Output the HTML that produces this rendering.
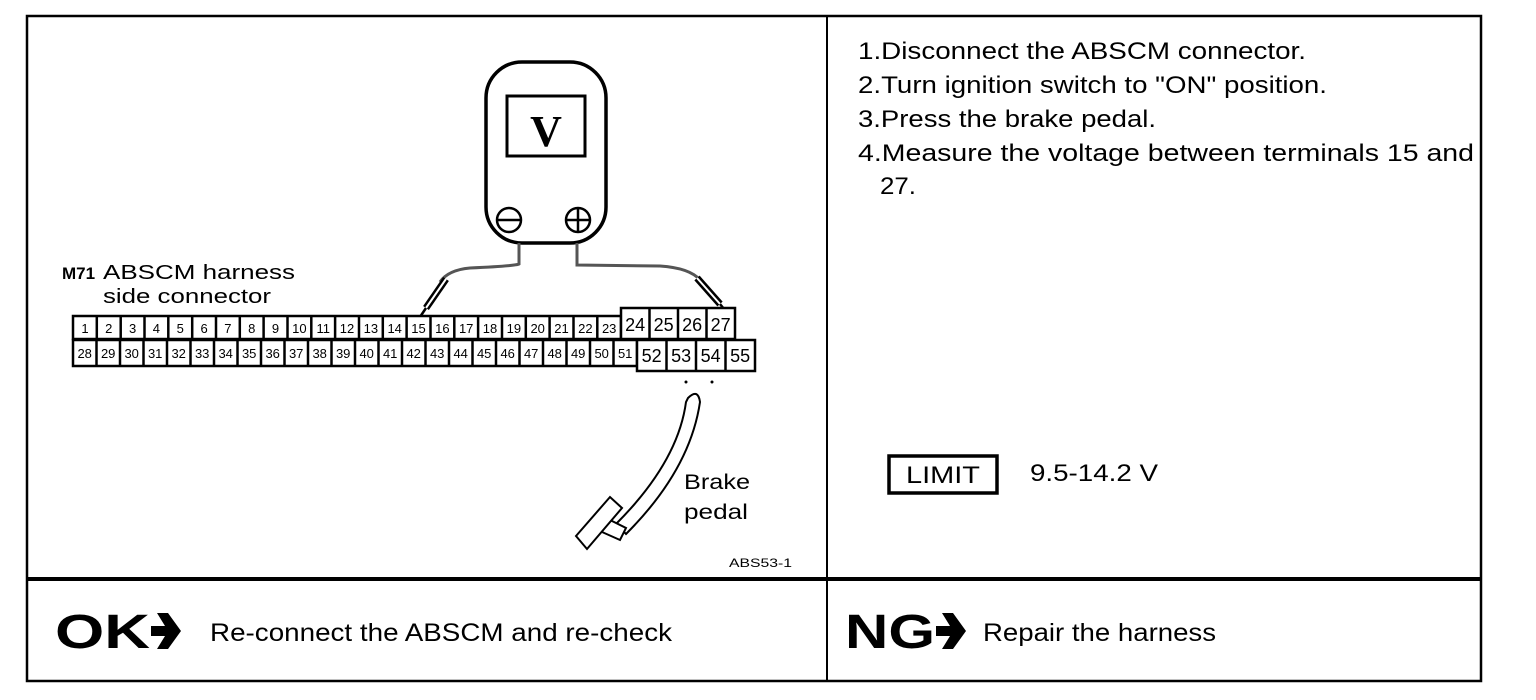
<!DOCTYPE html>
<html><head><meta charset="utf-8"><style>
html,body{margin:0;padding:0;background:#fff;}
svg{display:block;}
text{font-family:"Liberation Sans",sans-serif;fill:#000;}
.c{font-size:13px;text-anchor:middle;}
.C{font-size:18px;text-anchor:middle;}
</style></head><body>
<svg width="1536" height="700" viewBox="0 0 1536 700" xmlns="http://www.w3.org/2000/svg">
<rect x="27" y="16" width="1454" height="665" fill="none" stroke="#000" stroke-width="2.5"/>
<line x1="827" y1="16" x2="827" y2="681" stroke="#000" stroke-width="2"/>
<line x1="27" y1="579" x2="1481" y2="579" stroke="#000" stroke-width="4"/>

<!-- meter -->
<rect x="486" y="62" width="120" height="181" rx="36" fill="#fff" stroke="#000" stroke-width="3.5"/>
<rect x="507" y="96" width="78" height="60" fill="none" stroke="#000" stroke-width="3"/>
<text x="546" y="146" font-weight="bold" font-size="44" text-anchor="middle" style="font-family:'Liberation Serif',serif">V</text>
<circle cx="509" cy="220" r="12" fill="none" stroke="#000" stroke-width="2.5"/>
<line x1="497" y1="220" x2="521" y2="220" stroke="#000" stroke-width="2.5"/>
<circle cx="578" cy="220" r="12" fill="none" stroke="#000" stroke-width="2.5"/>
<line x1="566" y1="220" x2="590" y2="220" stroke="#000" stroke-width="2.5"/>
<line x1="578" y1="208" x2="578" y2="232" stroke="#000" stroke-width="2.5"/>
<!-- wires -->
<path d="M519 243 L519 264 Q515 266 470 268 Q448 270 440 282" fill="none" stroke="#555" stroke-width="3"/>
<path d="M577 243 L577 265 L660 266 Q690 268 700 280" fill="none" stroke="#555" stroke-width="3"/>
<line x1="446" y1="279" x2="426" y2="308" stroke="#000" stroke-width="7"/>
<line x1="446" y1="279" x2="426" y2="308" stroke="#fff" stroke-width="2"/>
<line x1="426" y1="308" x2="418" y2="320" stroke="#000" stroke-width="2.5"/>
<line x1="697" y1="278" x2="720" y2="304" stroke="#000" stroke-width="7"/>
<line x1="697" y1="278" x2="720" y2="304" stroke="#fff" stroke-width="2"/>
<line x1="720" y1="304" x2="728" y2="314" stroke="#000" stroke-width="2.5"/>

<!-- labels -->
<text x="62" y="279" font-size="17" font-weight="bold">M71</text>
<text x="103" y="279" font-size="20" textLength="192" lengthAdjust="spacingAndGlyphs">ABSCM harness</text>
<text x="103" y="303" font-size="20" textLength="168" lengthAdjust="spacingAndGlyphs">side connector</text>

<!-- connector -->
<g fill="#fff" stroke="#000" stroke-width="2.5">
<rect x="73" y="316" width="548" height="23"/>
<rect x="621" y="308" width="114" height="31"/>
<rect x="73" y="340" width="564" height="26"/>
<rect x="637" y="340" width="118" height="31"/>
</g>
<g stroke="#000" stroke-width="2.5">
<line x1="96.8" y1="316" x2="96.8" y2="339"/><line x1="120.7" y1="316" x2="120.7" y2="339"/><line x1="144.5" y1="316" x2="144.5" y2="339"/><line x1="168.3" y1="316" x2="168.3" y2="339"/><line x1="192.2" y1="316" x2="192.2" y2="339"/><line x1="216" y1="316" x2="216" y2="339"/><line x1="239.8" y1="316" x2="239.8" y2="339"/><line x1="263.6" y1="316" x2="263.6" y2="339"/><line x1="287.5" y1="316" x2="287.5" y2="339"/><line x1="311.3" y1="316" x2="311.3" y2="339"/><line x1="335.1" y1="316" x2="335.1" y2="339"/><line x1="359" y1="316" x2="359" y2="339"/><line x1="382.8" y1="316" x2="382.8" y2="339"/><line x1="406.6" y1="316" x2="406.6" y2="339"/><line x1="430.5" y1="316" x2="430.5" y2="339"/><line x1="454.3" y1="316" x2="454.3" y2="339"/><line x1="478.1" y1="316" x2="478.1" y2="339"/><line x1="502" y1="316" x2="502" y2="339"/><line x1="525.8" y1="316" x2="525.8" y2="339"/><line x1="549.6" y1="316" x2="549.6" y2="339"/><line x1="573.5" y1="316" x2="573.5" y2="339"/><line x1="597.3" y1="316" x2="597.3" y2="339"/>
<line x1="649.5" y1="308" x2="649.5" y2="339"/><line x1="678" y1="308" x2="678" y2="339"/><line x1="706.5" y1="308" x2="706.5" y2="339"/>
<line x1="96.5" y1="340" x2="96.5" y2="366"/><line x1="120" y1="340" x2="120" y2="366"/><line x1="143.5" y1="340" x2="143.5" y2="366"/><line x1="167" y1="340" x2="167" y2="366"/><line x1="190.5" y1="340" x2="190.5" y2="366"/><line x1="214" y1="340" x2="214" y2="366"/><line x1="237.5" y1="340" x2="237.5" y2="366"/><line x1="261" y1="340" x2="261" y2="366"/><line x1="284.5" y1="340" x2="284.5" y2="366"/><line x1="308" y1="340" x2="308" y2="366"/><line x1="331.5" y1="340" x2="331.5" y2="366"/><line x1="355" y1="340" x2="355" y2="366"/><line x1="378.5" y1="340" x2="378.5" y2="366"/><line x1="402" y1="340" x2="402" y2="366"/><line x1="425.5" y1="340" x2="425.5" y2="366"/><line x1="449" y1="340" x2="449" y2="366"/><line x1="472.5" y1="340" x2="472.5" y2="366"/><line x1="496" y1="340" x2="496" y2="366"/><line x1="519.5" y1="340" x2="519.5" y2="366"/><line x1="543" y1="340" x2="543" y2="366"/><line x1="566.5" y1="340" x2="566.5" y2="366"/><line x1="590" y1="340" x2="590" y2="366"/><line x1="613.5" y1="340" x2="613.5" y2="366"/>
<line x1="666.5" y1="340" x2="666.5" y2="371"/><line x1="696" y1="340" x2="696" y2="371"/><line x1="725.5" y1="340" x2="725.5" y2="371"/>
</g>
<g>
<text class="c" x="85" y="333">1</text><text class="c" x="108.7" y="333">2</text><text class="c" x="132.6" y="333">3</text><text class="c" x="156.4" y="333">4</text><text class="c" x="180.2" y="333">5</text><text class="c" x="204.1" y="333">6</text><text class="c" x="227.9" y="333">7</text><text class="c" x="251.7" y="333">8</text><text class="c" x="275.5" y="333">9</text><text class="c" x="299.4" y="333">10</text><text class="c" x="323.2" y="333">11</text><text class="c" x="347" y="333">12</text><text class="c" x="370.9" y="333">13</text><text class="c" x="394.7" y="333">14</text><text class="c" x="418.5" y="333">15</text><text class="c" x="442.4" y="333">16</text><text class="c" x="466.2" y="333">17</text><text class="c" x="490" y="333">18</text><text class="c" x="513.9" y="333">19</text><text class="c" x="537.7" y="333">20</text><text class="c" x="561.5" y="333">21</text><text class="c" x="585.4" y="333">22</text><text class="c" x="609.2" y="333">23</text>
<text class="C" x="635.2" y="331">24</text><text class="C" x="663.7" y="331">25</text><text class="C" x="692.2" y="331">26</text><text class="C" x="720.7" y="331">27</text>
<text class="c" x="84.7" y="358">28</text><text class="c" x="108.2" y="358">29</text><text class="c" x="131.7" y="358">30</text><text class="c" x="155.2" y="358">31</text><text class="c" x="178.7" y="358">32</text><text class="c" x="202.2" y="358">33</text><text class="c" x="225.7" y="358">34</text><text class="c" x="249.2" y="358">35</text><text class="c" x="272.7" y="358">36</text><text class="c" x="296.2" y="358">37</text><text class="c" x="319.7" y="358">38</text><text class="c" x="343.2" y="358">39</text><text class="c" x="366.7" y="358">40</text><text class="c" x="390.2" y="358">41</text><text class="c" x="413.7" y="358">42</text><text class="c" x="437.2" y="358">43</text><text class="c" x="460.7" y="358">44</text><text class="c" x="484.2" y="358">45</text><text class="c" x="507.7" y="358">46</text><text class="c" x="531.2" y="358">47</text><text class="c" x="554.7" y="358">48</text><text class="c" x="578.2" y="358">49</text><text class="c" x="601.7" y="358">50</text><text class="c" x="625.2" y="358">51</text>
<text class="C" x="651.7" y="362">52</text><text class="C" x="681.2" y="362">53</text><text class="C" x="710.7" y="362">54</text><text class="C" x="740.2" y="362">55</text>
</g>

<!-- pedal -->
<circle cx="686" cy="382" r="1.5"/><circle cx="712" cy="382" r="1.5"/>
<path d="M688 398 Q698 388 700 402 Q690 470 626 534 L616 524 Q678 462 686 402 Z" fill="#fff" stroke="#000" stroke-width="2"/>
<path d="M606 518 L626 528 L620 540 L602 532 Z" fill="#fff" stroke="#000" stroke-width="2"/>
<path d="M576 536 L610 497 L622 508 L587 549 Z" fill="#fff" stroke="#000" stroke-width="2"/>
<text x="684" y="489" font-size="21" textLength="66" lengthAdjust="spacingAndGlyphs">Brake</text>
<text x="684" y="519" font-size="21" textLength="64" lengthAdjust="spacingAndGlyphs">pedal</text>
<text x="729" y="567" font-size="12" textLength="63" lengthAdjust="spacingAndGlyphs">ABS53-1</text>

<!-- right text -->
<g font-size="24">
<text x="858" y="59" textLength="448" lengthAdjust="spacingAndGlyphs">1.Disconnect the ABSCM connector.</text>
<text x="858" y="93" textLength="469" lengthAdjust="spacingAndGlyphs">2.Turn ignition switch to "ON" position.</text>
<text x="858" y="127" textLength="298" lengthAdjust="spacingAndGlyphs">3.Press the brake pedal.</text>
<text x="858" y="161" textLength="616" lengthAdjust="spacingAndGlyphs">4.Measure the voltage between terminals 15 and</text>
<text x="880" y="194" textLength="36" lengthAdjust="spacingAndGlyphs">27.</text>
</g>
<rect x="889" y="456" width="108" height="37" fill="none" stroke="#000" stroke-width="3.5"/>
<text x="906" y="483" font-size="24" textLength="74" lengthAdjust="spacingAndGlyphs">LIMIT</text>
<text x="1030" y="481" font-size="24" textLength="128" lengthAdjust="spacingAndGlyphs">9.5-14.2 V</text>

<!-- bottom -->
<text x="55" y="648" font-size="48" font-weight="bold" textLength="95" lengthAdjust="spacingAndGlyphs">OK</text>
<path d="M151 626 L165 626 L157 613 L168 613 L181 631 L168 649 L157 649 L165 636 L151 636 Z" fill="#000"/>
<text x="210" y="641" font-size="25" textLength="462" lengthAdjust="spacingAndGlyphs">Re-connect the ABSCM and re-check</text>
<text x="845" y="648" font-size="48" font-weight="bold" textLength="90" lengthAdjust="spacingAndGlyphs">NG</text>
<path d="M936 626 L950 626 L942 613 L953 613 L966 631 L953 649 L942 649 L950 636 L936 636 Z" fill="#000"/>
<text x="983" y="641" font-size="25" textLength="233" lengthAdjust="spacingAndGlyphs">Repair the harness</text>
</svg>
</body></html>
